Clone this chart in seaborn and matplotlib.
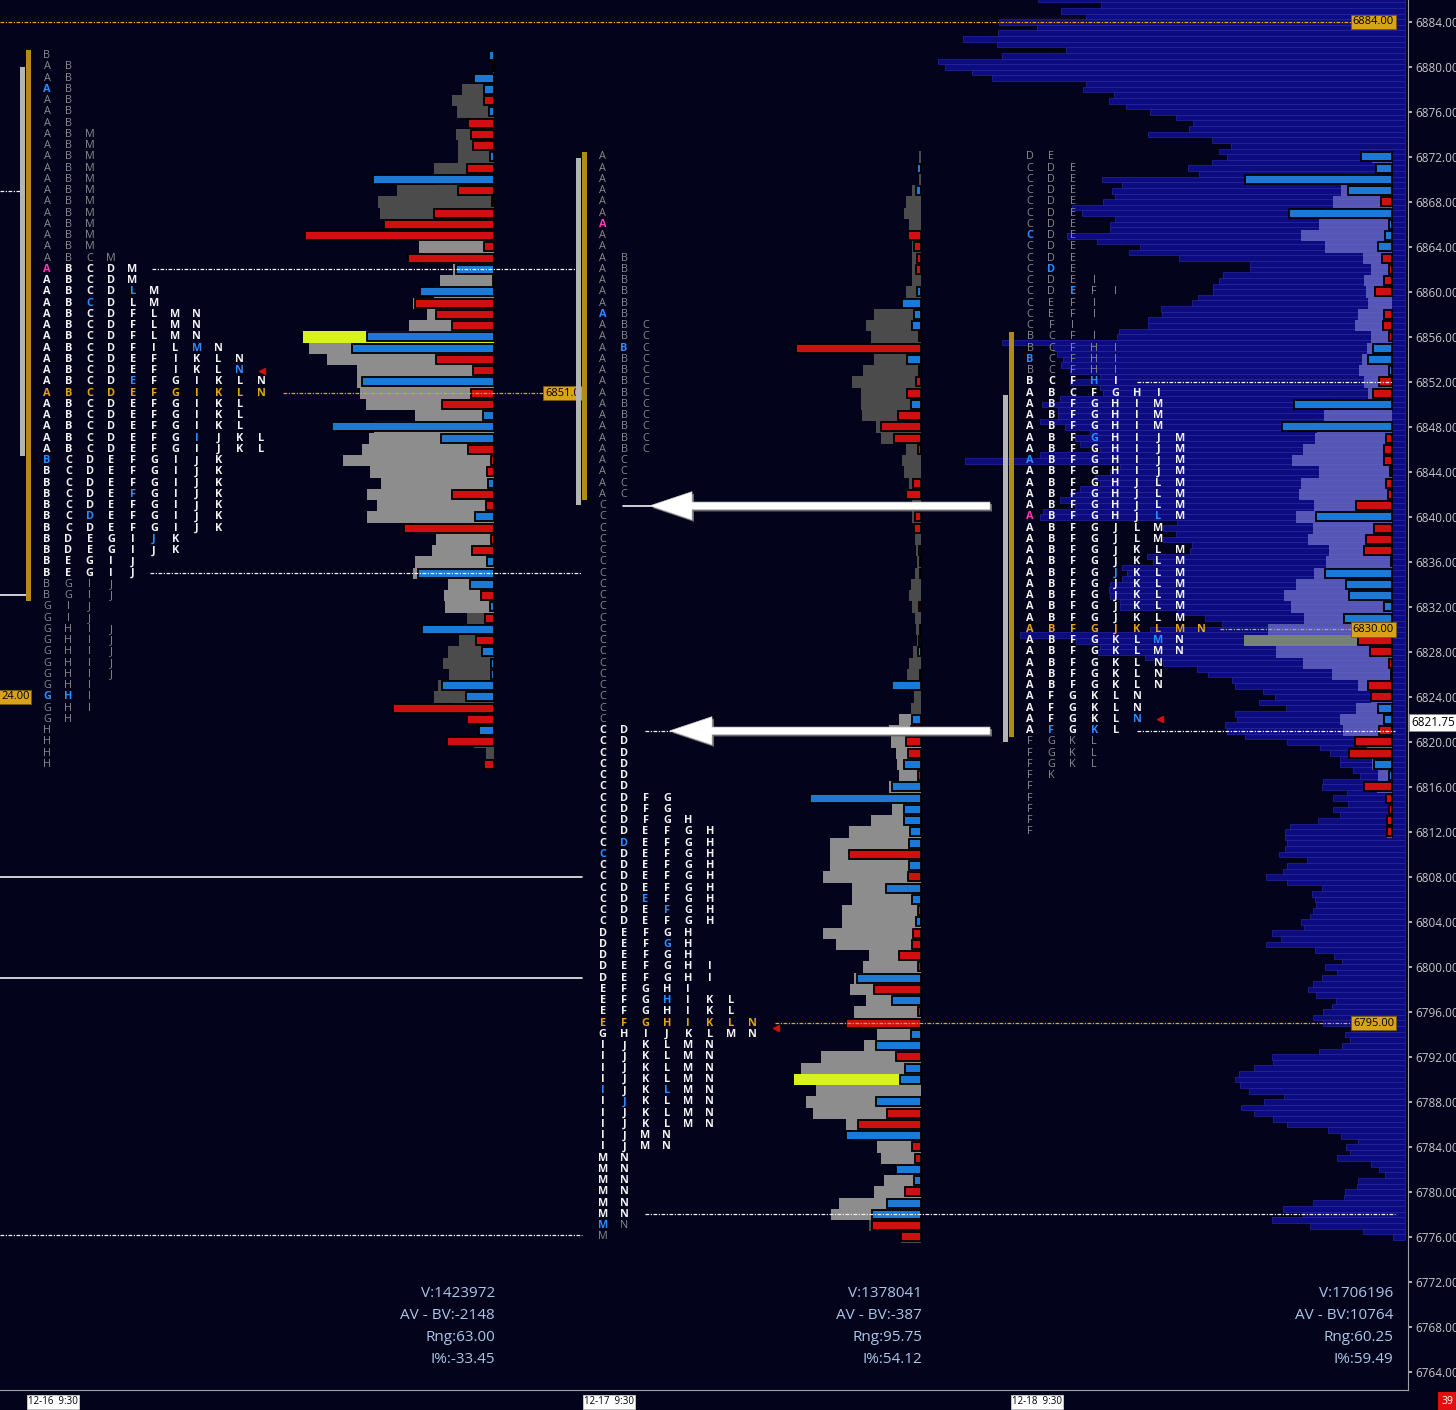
import numpy as np
import pandas as pd
import matplotlib
matplotlib.use("Agg")
import matplotlib.pyplot as plt
import seaborn as sns
from matplotlib.patches import FancyArrow

# ---------------- data ----------------
price_ticks = list(range(6764, 6885, 4))

# session 1  (12-16)
s1_top = 6881
s1_tpo_runs = [(1, "B"), (6, "AB"), (11, "ABM"), (1, "ABCM"), (2, "ABCDM"), (2, "ABCDLM"),
               (3, "ABCDFLMN"), (1, "ABCDFILMN"), (2, "ABCDEFIKLN"), (2, "ABCDEFGIKLN"),
               (3, "ABCDEFGIKL"), (2, "ABCDEFGIJKL"), (7, "BCDEFGIJK"), (2, "BDEGIJK"),
               (2, "BEGIJ"), (2, "BGIJ"), (2, "GIJ"), (5, "GHIJ"), (3, "GHI"), (1, "GH"), (4, "H")]
s1_blue = [(6878, 0), (6860, 4), (6859, 2), (6855, 7), (6853, 9), (6852, 4), (6847, 7),
           (6845, 0), (6842, 4), (6840, 2), (6838, 5), (6824, 0), (6824, 1)]
s1_pink = [(6862, 0)]
s1_poc, s1_va = 6851, (6835, 6862)
s1_vol = [3, 1, 12, 32, 42, 37, 20, 38, 36, 36,
          60, 60, 97, 116, 114, 100, 100, 75, 70, 41,
          54, 60, 81, 67, 85, 191, 185, 167, 137, 137,
          134, 128, 79, 120, 125, 132, 151, 124, 113, 127,
          117, 127, 80, 58, 62, 79, 81, 46, 50, 49,
          27, 30, 35, 46, 51, 45, 56, 60, 40, 20,
          10, 20, 8, 8]
s1_delta = [5, 1, 20, 10, -10, 5, -26, -23, -21, 4,
            -27, 121, -36, -2, -60, -110, -189, -10, -86, 38,
            -1, 74, -79, -58, -42, 127, 142, -58, -21, 132,
            -23, -52, 11, 162, 53, -26, -3, -7, 6, -42,
            -8, 19, -90, -3, -22, 7, 76, 24, -13, 4,
            -9, 72, -18, 12, 3, 3, 52, 28, -101, -27,
            15, -47, 0, -10]
s1_vol_poc, s1_vol_va = 6856, (6832, 6864)
s1_a_range, s1_ib = (6845.4, 6880.0), (6832.5, 6881.5)
s1_stats = ["V:1423972", "AV - BV:-2148", "Rng:63.00", "I%:-33.45"]

# session 2  (12-17)
s2_top = 6872
s2_tpo_runs = [(9, "A"), (6, "AB"), (12, "ABC"), (4, "AC"), (20, "C"), (6, "CD"), (2, "CDFG"),
               (1, "CDFGH"), (9, "CDEFGH"), (3, "DEFGH"), (2, "DEFGHI"), (1, "EFGHI"),
               (2, "EFGHIKL"), (1, "EFGHIKLN"), (1, "GHIJKLMN"), (8, "IJKLMN"), (2, "IJMN"),
               (7, "MN"), (1, "M")]
s2_blue = [(6858, 0), (6855, 1), (6811, 1), (6810, 0), (6806, 2), (6805, 3), (6802, 3),
           (6797, 3), (6789, 0), (6789, 3), (6788, 1), (6777, 0)]
s2_pink = [(6866, 0)]
s2_gray_override = [(6777, 1)]
s2_poc, s2_va = 6795, (6778, 6821)
s2_vol = [2, 3, 2, 9, 15, 17, 12, 13, 9, 9,
          9, 9, 15, 15, 47, 55, 50, 50, 47, 58,
          69, 60, 60, 59, 45, 40, 15, 19, 17, 12,
          12, 9, 9, 8, 6, 5, 4, 6, 10, 12,
          9, 6, 5, 4, 8, 12, 14, 20, 7, 10,
          22, 32, 30, 25, 24, 22, 32, 40, 29, 50,
          72, 91, 91, 91, 98, 69, 69, 79, 79, 98,
          85, 52, 58, 67, 71, 55, 67, 60, 44, 57,
          100, 120, 127, 105, 115, 108, 75, 70, 44, 40,
          25, 37, 47, 82, 90, 52, 20]
s2_delta = [0, 4, 0, 5, 0, 0, 0, -13, -7, -4,
            -5, 0, 4, 19, 7, 9, -2, -125, 14, 2,
            -5, -14, 10, -23, -40, -27, -3, 0, 0, -8,
            -15, 0, -6, -7, 0, 2, -1, 1, 0, 0,
            -2, 0, 1, 2, 3, 0, -1, 29, 0, 0,
            9, -10, -15, -13, 17, -3, 29, 111, 17, 17,
            11, 12, -72, 12, -13, 35, 9, -3, 5, -8,
            -9, -22, -3, 64, -47, 29, -3, -75, 10, 45,
            -25, 16, 21, 0, 45, -34, -63, 75, -9, -6,
            25, 7, -16, 34, 49, -49, -20]
s2_vol_poc, s2_vol_va = 6790, (6778, 6822)
s2_a_range, s2_ib = (6841.1, 6871.9), (6841.5, 6872.4)
s2_stats = ["V:1378041", "AV - BV:-387", "Rng:95.75", "I%:54.12"]

# session 3  (12-18)
s3_top = 6872
s3_tpo_runs = [(1, "DE"), (10, "CDE"), (1, "CDEI"), (1, "CDEFI"), (2, "CEFI"), (1, "CFI"),
               (1, "BCFI"), (4, "BCFHI"), (1, "ABCFGHI"), (3, "ABFGHIM"), (4, "ABFGHIJM"),
               (4, "ABFGHJLM"), (2, "ABFGJLM"), (7, "ABFGJKLM"), (1, "ABFGJKLMN"),
               (2, "ABFGKLMN"), (3, "ABFGKLN"), (3, "AFGKLN"), (1, "AFGKL"), (3, "FGKL"),
               (1, "FK"), (5, "F")]
s3_blue = [(6865, 0), (6862, 1), (6860, 2), (6854, 0), (6852, 3), (6847, 3), (6845, 0),
           (6840, 6), (6835, 4), (6829, 6), (6822, 5), (6821, 1), (6821, 3)]
s3_pink = [(6840, 0)]
s3_poc, s3_va = 6830, (6821, 6852)
s3_vol = [20, 15, 50, 51, 59, 70, 73, 91, 67, 29,
          21, 28, 26, 24, 34, 37, 21, 25, 30, 33,
          28, 24, 60, 68, 75, 77, 89, 100, 73, 91,
          93, 78, 96, 79, 84, 63, 66, 78, 96, 108,
          101, 88, 124, 148, 116, 89, 60, 34, 21, 36,
          52, 49, 25, 25, 20, 14, 15, 6, 4, 5,
          5]
s3_delta = [31, 16, 147, 44, -11, 103, 3, 7, 14, -10,
            -3, -8, -17, 0, -8, -9, -3, 19, 24, 3,
            -13, -19, 98, 0, 110, -6, -8, -8, -2, -6,
            -4, -36, 76, -18, -26, -28, -1, 67, 46, 43,
            8, 48, -5, -34, -22, -3, -1, -24, -21, 14,
            8, -13, -37, -43, 18, 3, -28, -6, -3, -5,
            -5]
s3_vol_poc = 6829
s3_a_range, s3_ib = (6820.0, 6850.8), (6820.4, 6856.4)
s3_stats = ["V:1706196", "AV - BV:10764", "Rng:60.25", "I%:59.49"]

# composite volume profile, half point rows from 6886.0 down to 6776.0
composite_top = 6886.0
composite_vol = [367, 304, 344, 319, 406, 368, 407, 442, 408, 339,
                 403, 467, 460, 433, 413, 319, 322, 291, 296, 279,
                 255, 229, 212, 216, 257, 193, 174, 186, 178, 193,
                 217, 206, 303, 283, 293, 290, 302, 333, 323, 290,
                 295, 295, 338, 308, 265, 276, 226, 155, 155, 182,
                 186, 192, 192, 207, 213, 244, 243, 257, 257, 286,
                 288, 403, 352, 348, 342, 344, 335, 305, 335, 305,
                 302, 345, 363, 347, 347, 365, 340, 315, 330, 325,
                 305, 365, 440, 285, 295, 310, 305, 325, 335, 345,
                 330, 362, 365, 228, 242, 229, 242, 213, 215, 258,
                 252, 283, 278, 283, 295, 296, 295, 285, 285, 228,
                 200, 183, 255, 385, 329, 305, 307, 260, 242, 208,
                 197, 173, 170, 142, 130, 146, 119, 170, 168, 180,
                 178, 160, 118, 85, 75, 65, 65, 52, 45, 82,
                 83, 58, 72, 57, 72, 65, 87, 115, 120, 120,
                 118, 120, 126, 98, 118, 122, 139, 118, 83, 93,
                 90, 89, 92, 95, 104, 101, 133, 124, 139, 90,
                 71, 63, 80, 68, 83, 92, 97, 89, 69, 73,
                 82, 92, 82, 52, 60, 55, 63, 86, 133, 132,
                 151, 166, 170, 165, 156, 121, 141, 164, 151, 132,
                 118, 77, 64, 47, 59, 55, 68, 34, 26, 20,
                 47, 48, 60, 61, 92, 122, 102, 133, 95, 42,
                 12]

naked_pocs = [6884.0, 6795.0, 6830.0]
prior_solid = [6808.0, 6799.0]
prior_dotted = 6776.2
last_price = 6821.75
time_labels = ["12-16  9:30", "12-17  9:30", "12-18  9:30"]

# ---------------- style ----------------
BG = "#03031c"
WHITE = "#f2f2f2"
GRAY_TXT = "#8a8a8a"
ORANGE = "#e3a516"
BLUE_TXT = "#2b8cff"
PINK = "#ff3cb4"
RED = "#d01010"
BLUE = "#1c7ad6"
DARK_VOL = "#4b4b4b"
LIGHT_VOL = "#8d8d8d"
YELLOW = "#d7f21c"
NAVY = "#0c0c80"
LAV = "#6a6ac4"
OLIVE = "#8f9f70"
STAT = "#a9c7e6"
DOT = (0, (3, 1.2, 1, 1.2))
COL_DX = 21.4

sns.set_theme(style="dark", rc={"axes.facecolor": BG, "figure.facecolor": BG})
plt.rcParams['font.family'] = ['Open Sans', 'DejaVu Sans']


def px2p(y):
    return 6884 - (y - 22) / 11.25


def expand(runs):
    rows = []
    for n, s in runs:
        rows += [s] * n
    return rows


fig = plt.figure(figsize=(14.56, 14.10), dpi=100)
ax = fig.add_axes([0, 20 / 1410, 1408 / 1456, 1390 / 1410])
ax.set_xlim(0, 1408)
ax.set_ylim(px2p(1390), px2p(0))

# composite profile behind session 3
comp = pd.DataFrame({"price": composite_top - 0.5 * np.arange(len(composite_vol)),
                     "vol": composite_vol})
ax.barh(comp.price, -comp.vol, left=1405, height=0.5, color=NAVY,
        edgecolor="#2a2aa6", lw=0.45, zorder=1)


def draw_profile(top, vol, delta, right, vol_poc, vol_va, lavender=False):
    df = pd.DataFrame({"price": np.arange(top, top - len(vol), -1), "vol": vol, "delta": delta})
    if lavender:
        cols = [OLIVE if p == vol_poc else LAV for p in df.price]
        ax.barh(df.price, -df.vol, left=right, height=1.0, color=cols, alpha=0.8, lw=0, zorder=2)
    else:
        cols = [YELLOW if p == vol_poc else (LIGHT_VOL if vol_va[0] <= p <= vol_va[1] else DARK_VOL)
                for p in df.price]
        ax.barh(df.price, -df.vol, left=right, height=1.0, color=cols, lw=0, zorder=2)
    d = df[df.delta != 0]
    ax.barh(d.price, -d.delta.abs(), left=right, height=0.8,
            color=[BLUE if v > 0 else RED for v in d.delta],
            edgecolor="black", lw=1.3, zorder=3)


def draw_tpo(top, runs, x0, poc, va, blue, pink, gray_over=()):
    for i, s in enumerate(expand(runs)):
        p = top - i
        for j, ch in enumerate(s):
            weight = "bold"
            if (p, j) in blue:
                c = BLUE_TXT
            elif (p, j) in pink:
                c = PINK
            elif (p, j) in gray_over:
                c, weight = GRAY_TXT, "normal"
            elif p == poc:
                c = ORANGE
            elif va[0] <= p <= va[1]:
                c = WHITE
            else:
                c, weight = GRAY_TXT, "normal"
            ax.text(x0 + j * COL_DX, p, ch, color=c, ha="center", va="center",
                    fontsize=7.8, fontweight=weight, zorder=7)


def dline(p, x0, x1, color=WHITE, ls=DOT, lw=0.9, z=4):
    ax.plot([x0, x1], [p, p], color=color, lw=lw, ls=ls, zorder=z)


def price_box(x, p, txt, ha="right"):
    ax.text(x, p, txt, ha=ha, va="center", fontsize=8, color="black", zorder=5,
            bbox=dict(boxstyle="square,pad=0.15", fc="#d9a21b", ec="#7a5a10", lw=0.6))


def range_bars(x, a_rng, ib):
    ax.bar(x, a_rng[1] - a_rng[0], bottom=a_rng[0], width=5, color="#b4b4b4",
           edgecolor="none", lw=0, zorder=6)
    ax.bar(x + 6, ib[1] - ib[0], bottom=ib[0], width=5, color="#b38a12",
           edgecolor="none", lw=0, zorder=6)


draw_profile(s1_top, s1_vol, s1_delta, 494, s1_vol_poc, s1_vol_va)
draw_profile(s2_top, s2_vol, s2_delta, 921, s2_vol_poc, s2_vol_va)
draw_profile(s3_top, s3_vol, s3_delta, 1392, s3_vol_poc, None, lavender=True)

# levels
dline(naked_pocs[0], 0, 1355, ORANGE)
price_box(1394, naked_pocs[0], "6884.00")
dline(s1_poc, 283, 545, ORANGE)
price_box(545, s1_poc, "6851.0", ha="left")
dline(s1_va[1], 152, 580)
dline(s1_va[0], 150, 582)
dline(6869, 0, 20)
ax.plot([0, 27], [6833.05, 6833.05], color=WHITE, lw=1.2, zorder=4)
price_box(1, 6824, "24.00", ha="left")
for lv in prior_solid:
    ax.plot([0, 582], [lv, lv], color=WHITE, lw=1.2, zorder=4)
dline(prior_dotted, 0, 582)

dline(s2_poc, 775, 1355, ORANGE)
price_box(1394, s2_poc, "6795.00")
dline(s2_va[1], 645, 690)
dline(s2_va[0], 645, 1395)
ax.plot([623, 655], [6841, 6841], color=WHITE, lw=1.2, zorder=4)

dline(s3_va[1], 1137, 1392)
dline(s3_va[0], 1137, 1395)
dline(s3_poc, 1220, 1355, ORANGE)
price_box(1394, s3_poc, "6830.00")

for x, p in [(262, 6853), (776, 6794.6), (1160, 6822)]:
    ax.plot(x, p, marker="<", color=RED, ms=4, mec=RED, zorder=8)

range_bars(22, s1_a_range, s1_ib)
range_bars(578, s2_a_range, s2_ib)
range_bars(1005, s3_a_range, s3_ib)

draw_tpo(s1_top, s1_tpo_runs, 47, s1_poc, s1_va, s1_blue, s1_pink)
draw_tpo(s2_top, s2_tpo_runs, 602.7, s2_poc, s2_va, s2_blue, s2_pink, s2_gray_override)
draw_tpo(s3_top, s3_tpo_runs, 1030, s3_poc, s3_va, s3_blue, s3_pink)

# arrows
for p, tip in [(6841, 650), (6821, 670)]:
    ax.add_patch(FancyArrow(992, p - 0.18, tip - 990, 0, width=0.65, head_width=2.5,
                            head_length=42, length_includes_head=True, fc="#6a6a6a",
                            ec="none", zorder=8))
    ax.add_patch(FancyArrow(990, p, tip - 990, 0, width=0.65, head_width=2.5,
                            head_length=42, length_includes_head=True, fc="white",
                            ec="#cfcfcf", lw=0.5, zorder=9))

# session stats
for xr, stats in [(495, s1_stats), (922, s2_stats), (1393, s3_stats)]:
    for k, t in enumerate(stats):
        ax.text(xr, px2p(1294 + 22 * k), t, ha="right", va="center", fontsize=11,
                color=STAT, zorder=9)

# axes
ax.yaxis.tick_right()
ax.set_yticks(price_ticks)
ax.set_yticklabels([f"{t:.2f}" for t in price_ticks])
ax.tick_params(axis="y", colors="#c8c8c8", labelsize=8.5, length=3, pad=2, right=True)
ax.set_xticks([])
ax.grid(False)
for side in ["left", "top"]:
    ax.spines[side].set_visible(False)
for side in ["right", "bottom"]:
    ax.spines[side].set_visible(True)
    ax.spines[side].set_color("#a0a0a0")
    ax.spines[side].set_linewidth(0.8)

ax.text(1411, last_price, f"{last_price:.2f}", ha="left", va="center", fontsize=8.5,
        color="black", clip_on=False, zorder=10,
        bbox=dict(boxstyle="square,pad=0.15", fc="white", ec="#888888", lw=0.6))

for x, t in zip([28, 584, 1012], time_labels):
    fig.text(x / 1456, 1 - 1402 / 1410, t, ha="left", va="center", fontsize=7, color="black",
             bbox=dict(boxstyle="square,pad=0.15", fc="white", ec="#cccccc", lw=0.6))
fig.text(1447 / 1456, 1 - 1401 / 1410, "39", ha="center", va="center", fontsize=7.5,
         color="white", bbox=dict(boxstyle="square,pad=0.3", fc="#e01010", ec="none"))

fig.savefig("out.png", dpi=100, facecolor=BG)
